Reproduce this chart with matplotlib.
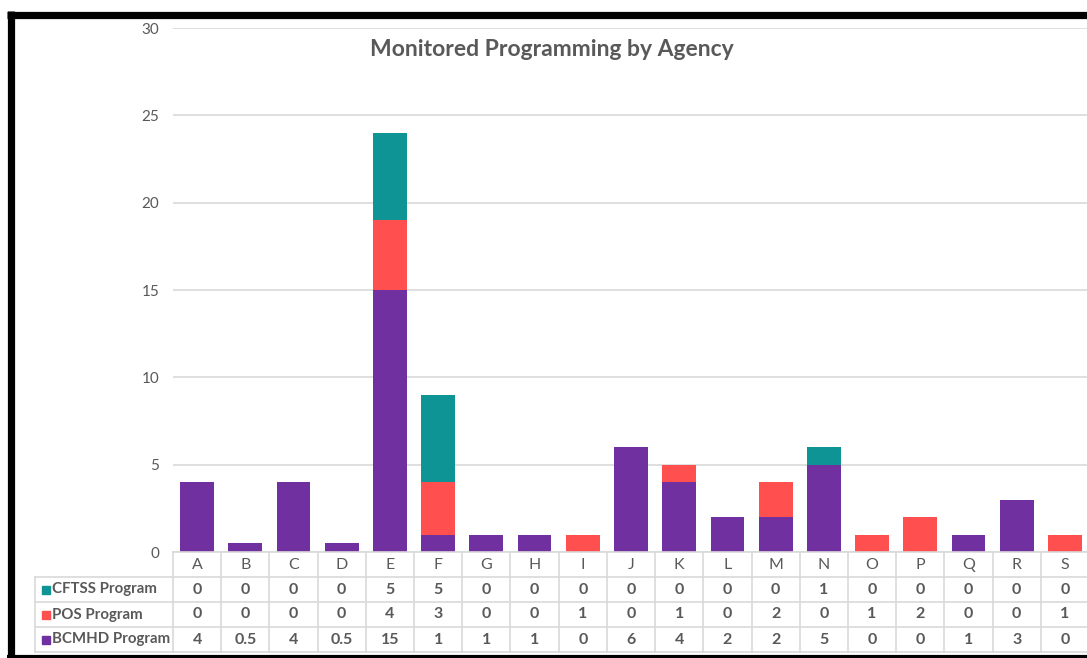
import numpy as np
import matplotlib
matplotlib.use('Agg')
import matplotlib.pyplot as plt
from matplotlib.lines import Line2D
from matplotlib.patches import Rectangle
import matplotlib.transforms as mtransforms

plt.rcParams['font.family'] = ['Lato', 'DejaVu Sans']

agencies = list("ABCDEFGHIJKLMNOPQRS")
bcmhd = [4, 0.5, 4, 0.5, 15, 1, 1, 1, 0, 6, 4, 2, 2, 5, 0, 0, 1, 3, 0]
pos = [0, 0, 0, 0, 4, 3, 0, 0, 1, 0, 1, 0, 2, 0, 1, 2, 0, 0, 1]
cftss = [0, 0, 0, 0, 5, 5, 0, 0, 0, 0, 0, 0, 0, 1, 0, 0, 0, 0, 0]
series_names = ["CFTSS Program", "POS Program", "BCMHD Program"]
title = "Monitored Programming by Agency"

c_purple = '#7030A0'
c_red = '#FF4F4F'
c_teal = '#0E9494'
txt = '#595959'
grid = '#D9D9D9'

W, H = 1087, 658
fig = plt.figure(figsize=(W / 100, H / 100), dpi=100)
fig.patch.set_facecolor('white')

def fx(px):
    return px / W

def fy(py):
    return 1 - py / H

ax = fig.add_axes([fx(173), fy(552), (1089 - 173) / W, (552 - 28) / H])
x = np.arange(len(agencies))
b = np.array(bcmhd, float)
p = np.array(pos, float)
c = np.array(cftss, float)
ax.bar(x, b, 0.7, color=c_purple, zorder=3)
ax.bar(x, p, 0.7, bottom=b, color=c_red, zorder=3)
ax.bar(x, c, 0.7, bottom=b + p, color=c_teal, zorder=3)
ax.set_xlim(-0.5, len(agencies) - 0.5)
ax.set_ylim(0, 30)
ax.set_yticks(range(0, 31, 5))
ax.set_xticks([])
ax.grid(axis='y', color=grid, lw=1.2)
ax.set_axisbelow(True)
for s in ax.spines.values():
    s.set_visible(False)
ax.tick_params(axis='y', length=0, pad=10, labelcolor=txt, labelsize=11)

fig.text(fx(552), fy(50), title, ha='center', va='center', fontsize=16.5,
         fontweight='bold', color=txt)

# data table
bt = mtransforms.blended_transform_factory(ax.transData, fig.transFigure)
rows_y = [552, 577, 602, 627, 652]
lw = 1.2
fig.add_artist(Line2D([fx(173), fx(1089)], [fy(552), fy(552)], color=grid, lw=lw))
for yy in rows_y[1:]:
    fig.add_artist(Line2D([fx(35), fx(1089)], [fy(yy), fy(yy)], color=grid, lw=lw))
for i in range(len(agencies) + 1):
    ax.add_artist(Line2D([i - 0.5, i - 0.5], [fy(552), fy(652)], color=grid, lw=lw,
                         transform=bt, clip_on=False))
fig.add_artist(Line2D([fx(35), fx(35)], [fy(577), fy(652)], color=grid, lw=lw))

for i, a in enumerate(agencies):
    ax.text(i, fy(565), a, transform=bt, ha='center', va='center', fontsize=11.5,
            color=txt, clip_on=False)

def fmt(v):
    return str(int(v)) if float(v).is_integer() else str(v)

table_rows = [(series_names[0], cftss, c_teal), (series_names[1], pos, c_red),
              (series_names[2], bcmhd, c_purple)]
for r, (name, vals, col) in enumerate(table_rows):
    yc = (rows_y[r + 1] + rows_y[r + 2]) / 2
    fig.add_artist(Rectangle((fx(42), fy(yc + 4)), 8 / W, 8 / H, color=col,
                             transform=fig.transFigure))
    fig.text(fx(52), fy(yc), name, ha='left', va='center', fontsize=10.8,
             fontweight='bold', color=txt)
    for i, v in enumerate(vals):
        ax.text(i, fy(yc), fmt(v), transform=bt, ha='center', va='center',
                fontsize=11.5, fontweight='bold', color=txt, clip_on=False)

# black frame
fig.add_artist(Line2D([fx(7), fx(1087)], [fy(14.5), fy(14.5)], color='black', lw=5.2,
                      solid_capstyle='butt'))
fig.add_artist(Line2D([fx(10.5), fx(10.5)], [fy(11), fy(658)], color='black', lw=5.2,
                      solid_capstyle='butt'))
fig.add_artist(Line2D([fx(7), fx(1087)], [fy(656.5), fy(656.5)], color='black', lw=3,
                      solid_capstyle='butt'))

fig.savefig('out.png', dpi=100)
